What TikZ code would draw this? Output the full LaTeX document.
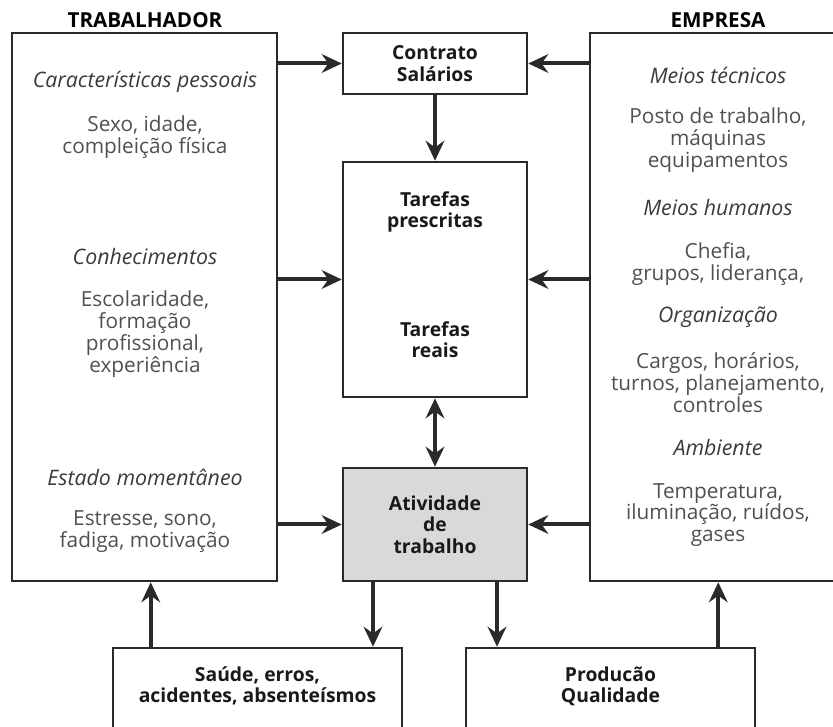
\documentclass[tikz,border=0pt]{standalone}
\usepackage{fontspec}
\setmainfont{Open Sans}
\usetikzlibrary{arrows.meta}
\newdimen\px \px=0.75pt
\definecolor{frame}{HTML}{2A2A2A}
\definecolor{bodytxt}{HTML}{505050}
\definecolor{headtxt}{HTML}{3A3A3A}
\definecolor{actfill}{HTML}{D9D9D9}
\tikzset{
  box/.style={draw=frame, line width=1.9pt, rectangle, inner sep=0pt},
  arr/.style={draw=frame, line width=3pt, -{Stealth[length=15pt,width=14pt,inset=5pt]}},
  darr/.style={draw=frame, line width=3pt, {Stealth[length=15pt,width=14pt,inset=5pt]}-{Stealth[length=15pt,width=14pt,inset=5pt]}},
  title/.style={font=\bfseries\fontsize{15.5}{16}\selectfont, text=black},
  bold/.style={font=\bfseries\fontsize{14.5}{16}\selectfont, text=black!90, align=center},
  head/.style={font=\itshape\fontsize{16}{16.5}\selectfont, text=headtxt, align=center},
  body/.style={font=\fontsize{15.6}{16.4}\selectfont, text=bodytxt, align=center},
}
\begin{document}
\begin{tikzpicture}[x=0.75pt,y=-0.75pt]
\useasboundingbox (0,0) rectangle (833,727);

% column headings
\node[title] (tT) at (145,20) {TRABALHADOR};
\node[title] (tE) at (718,20) {EMPRESA};

% worker and company boxes
\node[box, minimum width=265\px, minimum height=548\px] (L) at (144.5,307) {};
\node[box, minimum width=260\px, minimum height=548\px] (R) at (720,307) {};

% central column
\node[box, minimum width=184\px, minimum height=61\px] (C1) at (435,63.5) {};
\node[bold] (C1t) at (C1) {Contrato\\Salários};
\node[box, minimum width=184\px, minimum height=235\px] (C2) at (435,279.5) {};
\node[bold] (C2a) at (435,212) {Tarefas\\prescritas};
\node[bold] (C2b) at (435,340) {Tarefas\\reais};
\node[box, fill=actfill, minimum width=184\px, minimum height=113\px] (C3) at (435,524.5) {};
\node[bold] (C3t) at (C3) {Atividade\\de\\trabalho};

% outcome boxes
\node[box, minimum width=289\px, minimum height=97\px] (B1) at (257.5,696.5) {};
\node[bold] (B1t) at (257.5,686) {Saúde, erros,\\acidentes, absenteísmos};
\node[box, minimum width=289\px, minimum height=97\px] (B2) at (610.5,696.5) {};
\node[bold] (B2t) at (610.5,686) {Producão\\Qualidade};

% worker factors
\node[head] (L1h) at (145,82) {Características pessoais};
\node[body] (L1b) at (145,137) {Sexo, idade,\\compleição física};
\node[head] (L2h) at (145,257) {Conhecimentos};
\node[body] (L2b) at (145,334) {Escolaridade,\\formação\\profissional,\\experiência};
\node[head] (L3h) at (145,477) {Estado momentâneo};
\node[body] (L3b) at (145,532) {Estresse, sono,\\fadiga, motivação};

% company factors
\node[head] (R1h) at (718,75) {Meios técnicos};
\node[body] (R1b) at (718,140) {Posto de trabalho,\\máquinas\\equipamentos};
\node[head] (R2h) at (718,208) {Meios humanos};
\node[body] (R2b) at (718,264) {Chefia,\\grupos, liderança,};
\node[head] (R3h) at (718,317) {Organização};
\node[body] (R3b) at (718,383) {Cargos, horários,\\turnos, planejamento,\\controles};
\node[head] (R4h) at (718,448) {Ambiente};
\node[body] (R4b) at (718,515) {Temperatura,\\iluminação, ruídos,\\gases};

% influences on the central column
\draw[arr] (L.east |- C1.west) -- (C1.west);
\draw[arr] (R.west |- C1.east) -- (C1.east);
\draw[arr] (C1.south) -- (C2.north);
\draw[arr] (L.east |- C2.west) -- (C2.west);
\draw[arr] (R.west |- C2.east) -- (C2.east);
\draw[darr] (C2.south) -- (C3.north);
\draw[arr] (L.east |- C3.west) -- (C3.west);
\draw[arr] (R.west |- C3.east) -- (C3.east);

% consequences and feedback
\coordinate (a1) at ([xshift=-62\px]C3.south);
\coordinate (a2) at ([xshift=62\px]C3.south);
\coordinate (f1) at ([xshift=39\px]B1.north west);
\coordinate (f2) at ([xshift=-38\px]B2.north east);
\draw[arr] (a1) -- (a1 |- B1.north);
\draw[arr] (a2) -- (a2 |- B2.north);
\draw[arr] (f1) -- (f1 |- L.south);
\draw[arr] (f2) -- (f2 |- R.south);
\end{tikzpicture}
\end{document}
